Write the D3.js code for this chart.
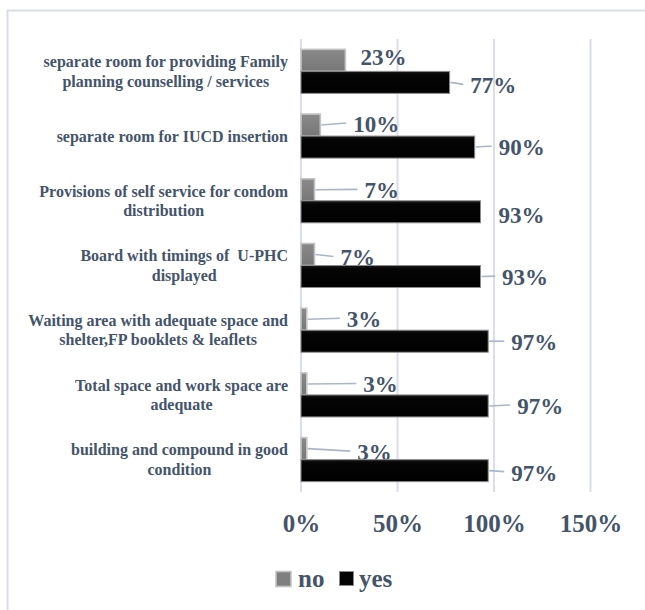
<!DOCTYPE html>
<html>
<head>
<meta charset="utf-8">
<script src="https://cdn.jsdelivr.net/npm/d3@7"></script>
<style>
  html, body { margin: 0; padding: 0; background: #ffffff; }
  svg { display: block; }
  text { font-family: "Liberation Serif", "Times New Roman", serif; font-weight: bold; }
</style>
</head>
<body>
<svg id="chart" width="645" height="610"></svg>
<script>
// Facility checklist items, top to bottom (each entry = wrapped lines)
const categories = [
  ["separate room for providing Family", "planning counselling / services"],
  ["separate room for IUCD insertion"],
  ["Provisions of self service for condom", "distribution"],
  ["Board with timings of  U-PHC", "displayed"],
  ["Waiting area with adequate space and", "shelter,FP booklets & leaflets"],
  ["Total space and work space are", "adequate"],
  ["building and compound in good", "condition"]
];
const seriesNames = ["no", "yes"];
const noValues  = [23, 10, 7, 7, 3, 3, 3];
const yesValues = [77, 90, 93, 93, 97, 97, 97];
const xTicks = [0, 50, 100, 150];

// Hand-placed data label offsets [dx from bar end, dy from bar centre]
const noLabelShift  = [[15, -3], [33, -1], [50, 0.6], [26, 3], [40, 0], [56.5, 0.5], [50.5, 3.5]];
const yesLabelShift = [[20.7, 3], [24, 0], [18, 3.6], [21.6, 0.6], [23, 1], [29, 0], [23, 2]];

const textColor = "#44546A";
const gridColor = "#D9DEE8";
const leaderColor = "#A9B6C8";

const svg = d3.select("#chart");

// outer chart frame (extends past the right and bottom edges)
svg.append("rect")
  .attr("x", 7.5).attr("y", 10.5)
  .attr("width", 700).attr("height", 700)
  .attr("fill", "none")
  .attr("stroke", "#D9DEE6")
  .attr("stroke-width", 2);

const ids = categories.map((d, i) => i);
const y = d3.scaleBand().domain(ids).range([39, 492]).paddingInner(0.32).paddingOuter(0.16);
const ySub = d3.scaleBand().domain(seriesNames).range([0, y.bandwidth()]);
const x = d3.scaleLinear().domain([0, 150]).range([301, 590.5]);

const defs = svg.append("defs");
const gGrey = defs.append("linearGradient").attr("id", "greyFill").attr("x1", 0).attr("y1", 0).attr("x2", 0).attr("y2", 1);
gGrey.append("stop").attr("offset", "0%").attr("stop-color", "#8a8a8a");
gGrey.append("stop").attr("offset", "100%").attr("stop-color", "#777777");
const gBlack = defs.append("linearGradient").attr("id", "blackFill").attr("x1", 0).attr("y1", 0).attr("x2", 0).attr("y2", 1);
gBlack.append("stop").attr("offset", "0%").attr("stop-color", "#1a1a1a");
gBlack.append("stop").attr("offset", "15%").attr("stop-color", "#050505");
gBlack.append("stop").attr("offset", "100%").attr("stop-color", "#000000");

// vertical gridlines
svg.append("g").selectAll("line").data(xTicks).join("line")
  .attr("x1", d => x(d)).attr("x2", d => x(d))
  .attr("y1", 39).attr("y2", 492)
  .attr("stroke", gridColor).attr("stroke-width", 2);

// x axis tick labels
const xAxis = d3.axisBottom(x).tickValues(xTicks).tickFormat(d => d + "%").tickSize(0).tickPadding(0);
const xg = svg.append("g").attr("transform", "translate(0,0)").call(xAxis);
xg.select(".domain").remove();
xg.selectAll("text")
  .attr("y", 532).attr("dy", null)
  .attr("fill", textColor)
  .attr("font-size", 25)
  .attr("font-family", "Liberation Serif, Times New Roman, serif")
  .attr("font-weight", "bold");

// category labels: lines centred on each other, block right-aligned
const rightEdge = 288;
const catG = svg.append("g");
categories.forEach((lines, i) => {
  const cy = y(i) + y.bandwidth() / 2;
  const lh = 19.5;
  const g = catG.append("g");
  const ts = lines.map((ln, k) => g.append("text")
    .attr("y", cy + (k - (lines.length - 1) / 2) * lh + 5.5)
    .attr("text-anchor", "middle")
    .attr("font-size", 16)
    .attr("fill", textColor)
    .style("white-space", "pre")
    .text(ln));
  const maxW = d3.max(ts, t => t.node().getComputedTextLength());
  ts.forEach(t => t.attr("x", rightEdge - maxW / 2));
});

function drawSeries(values, shifts, name, fill, stroke, strokeW) {
  const g = svg.append("g");
  g.selectAll("rect").data(values).join("rect")
    .attr("x", x(0))
    .attr("y", (d, i) => y(i) + ySub(name))
    .attr("width", d => x(d) - x(0))
    .attr("height", ySub.bandwidth())
    .attr("fill", fill)
    .attr("stroke", stroke)
    .attr("stroke-width", strokeW);
  values.forEach((v, i) => {
    const bx = x(v);
    const by = y(i) + ySub(name) + ySub.bandwidth() / 2;
    const [dx, dy] = shifts[i];
    const lx = bx + dx, ly = by + dy;
    if (dx > 19) {
      g.append("line")
        .attr("x1", bx + 1).attr("y1", by)
        .attr("x2", lx - 7).attr("y2", ly - 1)
        .attr("stroke", leaderColor).attr("stroke-width", 1.6);
    }
    g.append("text")
      .attr("x", lx).attr("y", ly + 8)
      .attr("font-size", 23)
      .attr("fill", textColor)
      .text(v + "%");
  });
}

drawSeries(noValues, noLabelShift, "no", "url(#greyFill)", "#C4C4C4", 1.6);
drawSeries(yesValues, yesLabelShift, "yes", "url(#blackFill)", "#8C8C8C", 1);

// legend
const lg = svg.append("g");
lg.append("rect").attr("x", 276).attr("y", 571.5).attr("width", 15).attr("height", 15)
  .attr("fill", "#7f7f7f").attr("stroke", "#C4C4C4").attr("stroke-width", 1.6);
lg.append("text").attr("x", 298).attr("y", 587).attr("font-size", 25).attr("fill", textColor).text("no");
lg.append("rect").attr("x", 339.5).attr("y", 571.5).attr("width", 14).attr("height", 14)
  .attr("fill", "#050505").attr("stroke", "#8C8C8C").attr("stroke-width", 1);
lg.append("text").attr("x", 359).attr("y", 587).attr("font-size", 25).attr("fill", textColor).text("yes");
</script>
</body>
</html>
